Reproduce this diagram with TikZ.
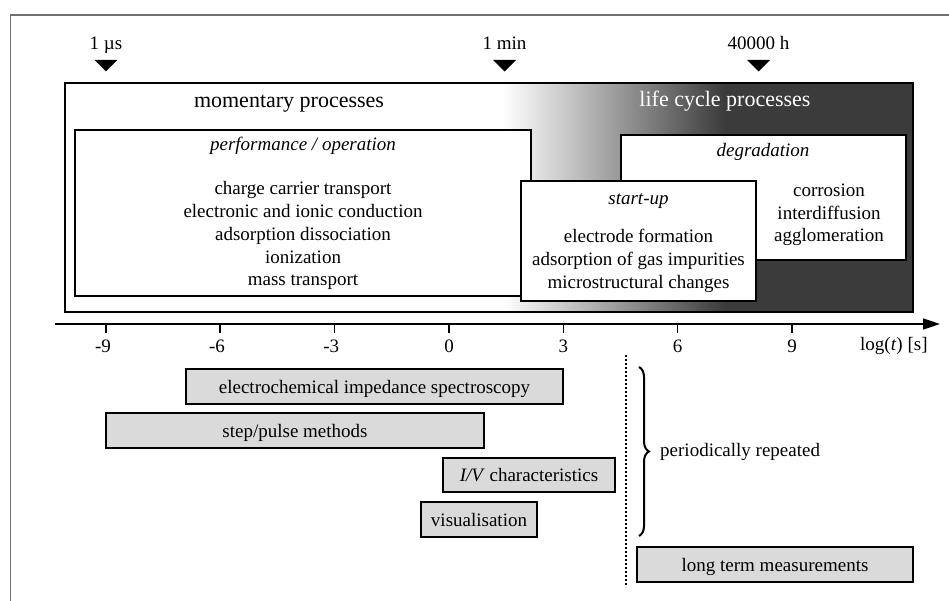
\documentclass[tikz,border=0pt]{standalone}
\usepackage{fontspec}
\setmainfont{Liberation Serif}
\usetikzlibrary{arrows.meta,decorations.pathreplacing}
\definecolor{darkfill}{HTML}{3B3B3B}
\definecolor{barfill}{HTML}{DADADA}
\definecolor{framegray}{HTML}{707070}
\begin{document}
\begin{tikzpicture}[x=1pt,y=-1pt,
  box/.style={draw, line width=1.4pt, fill=white, inner sep=0pt},
  bar/.style={draw, line width=1.4pt, fill=barfill, inner sep=0pt, text height=15pt, text depth=2pt, font=\fontsize{19}{23}\selectfont},
  txt/.style={inner sep=0pt, align=center, anchor=base, font=\fontsize{19}{22.8}\selectfont},
  head/.style={inner sep=0pt, anchor=base, font=\fontsize{22}{26}\selectfont},
  ticklab/.style={inner sep=0pt, anchor=base, font=\fontsize{19}{23}\selectfont},
  ticks/.style={line width=1.4pt},
  marker/.style={fill=black},
]
\useasboundingbox (0,0) rectangle (949,601);
% outer frame
\coordinate (f1) at (10.5,601);
\coordinate (f2) at (10.5,15);
\coordinate (f3) at (949,15);
\draw[framegray, line width=1.8pt] (f1) -- (f2) -- (f3);

% time markers
\foreach \x/\lab/\nm in {106/{1 µs}/mus, 504.5/{1 min}/min, 758.5/{40000 h}/hrs}{
  \node[ticklab] (lab\nm) at (\x,50) {\lab};
  \fill[marker] (\x-11.5,60) -- (\x+11.5,60) -- (\x,71.5) -- cycle;
}

% main process box with gradient
\fill[white] (65,83) rectangle (503,312);
\shade[left color=white, right color=darkfill] (503,83) rectangle (725,312);
\fill[darkfill] (725,83) rectangle (913,312);
\node[draw, line width=1.4pt, inner sep=0pt, minimum width=848pt, minimum height=229pt] (main) at (489,197.5) {};
\node[head] (mom) at (289,108) {momentary processes};
\node[head, text=white] (life) at (725,107) {life cycle processes};

% performance / operation
\node[box, minimum width=456pt, minimum height=166pt] (perf) at (303,213) {};
\node[txt] (perft) at (303,151) {\itshape performance / operation};
\node[txt] (perfl) at (303,286) {charge carrier transport\\electronic and ionic conduction\\adsorption dissociation\\ionization\\mass transport};

% degradation
\node[box, minimum width=285pt, minimum height=125pt] (degr) at (763.5,197.5) {};
\node[txt] (degrt) at (763,157) {\itshape degradation};
\node[txt] (degrl) at (829,242) {corrosion\\interdiffusion\\agglomeration};

% start-up
\node[box, minimum width=235pt, minimum height=120pt] (start) at (638.5,241) {};
\node[txt] (startt) at (638.5,205) {\itshape start-up};
\node[txt] (startl) at (638.5,288) {electrode formation\\adsorption of gas impurities\\microstructural changes};

% axis
\coordinate (ax0) at (55,324);
\coordinate (ax1) at (940,324);
\draw[line width=1.4pt, -{Triangle[length=17pt,width=11pt]}] (ax0) -- (ax1);
\foreach \v/\x/\dx in {-9/106/-3,-6/220/-3,-3/334.3/-3,0/449/0,3/563.3/0,6/677.7/0,9/792/0}{
  \draw[ticks] (\x,324) -- (\x,333);
  \node[ticklab] at (\x+\dx,352) {\v};
}
\node[ticklab, anchor=base west] (axlab) at (860,350) {log(\textit{t}) [s]};

% methods
\node[bar, minimum width=377pt, minimum height=35pt] (eis) at (374.5,386.5) {electrochemical impedance spectroscopy};
\node[bar, minimum width=378pt, minimum height=35pt] (stp) at (295,430.5) {step/pulse methods};
\node[bar, minimum width=172pt, minimum height=34pt] (iv) at (529,475) {\textit{I/V} characteristics};
\node[bar, minimum width=116pt, minimum height=35pt] (vis) at (479,519.5) {visualisation};
\node[bar, minimum width=276pt, minimum height=35pt] (ltm) at (775,564.5) {long term measurements};

% separator and brace
\coordinate (d0) at (626,355);
\coordinate (d1) at (626,587);
\draw[line width=1.3pt, dash pattern=on 1.6pt off 2.4pt] (d0) -- (d1);
\coordinate (bt) at (639,367);
\coordinate (bb) at (639,536);
\draw[line width=2pt, decorate, decoration={brace, amplitude=10pt}] (bt) -- (bb);
\node[ticklab, anchor=base west] (rep) at (660,456) {periodically repeated};
\end{tikzpicture}
\end{document}
